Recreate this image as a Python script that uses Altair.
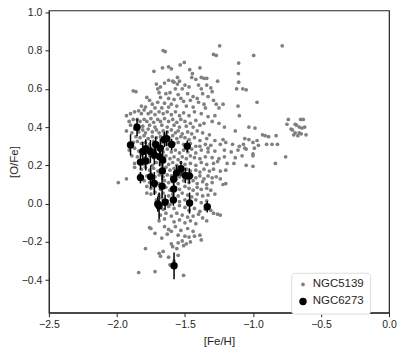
import altair as alt
import pandas as pd

# NGC5139 ([Fe/H], [O/Fe])
ngc5139 = [
    (-1.66, 0.80), (-1.645, 0.795), (-1.245, 0.825), (-0.785, 0.825), (-1.29, 0.78), (-1.27, 0.775),
    (-0.995, 0.775), (-1.105, 0.735), (-1.505, 0.738), (-1.535, 0.725), (-1.62, 0.715), (-1.60, 0.705),
    (-1.665, 0.71), (-1.728, 0.692), (-1.465, 0.70), (-1.39, 0.71),
    (-1.445, 0.68), (-1.107, 0.68), (-1.45, 0.66), (-1.38, 0.66), (-1.36, 0.655), (-1.34, 0.655),
    (-1.42, 0.65), (-1.555, 0.66), (-1.54, 0.64), (-1.59, 0.64), (-1.58, 0.635), (-1.555, 0.625),
    (-1.65, 0.63), (-1.71, 0.625), (-1.68, 0.61), (-1.26, 0.64), (-1.105, 0.635), (-1.50, 0.62),
    (-1.47, 0.61), (-1.40, 0.62), (-1.34, 0.62), (-1.31, 0.605), (-1.62, 0.645), (-1.52, 0.60),
    (-1.57, 0.60), (-1.38, 0.60), (-1.70, 0.60),
    (-1.88, 0.59), (-1.86, 0.585), (-1.30, 0.585), (-1.075, 0.60), (-1.05, 0.595), (-1.12, 0.60),
    (-1.78, 0.555), (-1.76, 0.54), (-1.69, 0.58), (-1.64, 0.575), (-1.61, 0.58), (-1.55, 0.57),
    (-1.48, 0.575), (-1.44, 0.56), (-1.41, 0.55), (-1.37, 0.575), (-1.33, 0.56), (-1.68, 0.555),
    (-1.62, 0.55), (-1.58, 0.545), (-1.53, 0.55), (-1.51, 0.535), (-1.46, 0.54), (-1.40, 0.53),
    (-1.36, 0.52), (-1.29, 0.54), (-1.27, 0.52), (-0.97, 0.53), (-1.11, 0.51), (-1.74, 0.52),
    (-1.70, 0.53), (-1.65, 0.525), (-1.60, 0.52), (-1.56, 0.51), (-1.49, 0.51), (-1.44, 0.505),
    (-1.79, 0.505), (-1.82, 0.51), (-1.72, 0.50), (-1.67, 0.50), (-1.62, 0.505), (-1.35, 0.50),
    (-1.22, 0.52), (-1.25, 0.50),
    (-1.93, 0.46), (-1.90, 0.47), (-1.87, 0.48), (-1.84, 0.485), (-1.82, 0.47), (-1.80, 0.49),
    (-1.77, 0.47), (-1.75, 0.48), (-1.72, 0.465), (-1.69, 0.48), (-1.66, 0.47), (-1.63, 0.48),
    (-1.60, 0.465), (-1.57, 0.48), (-1.54, 0.46), (-1.51, 0.475), (-1.47, 0.46), (-1.43, 0.48),
    (-1.38, 0.47), (-1.33, 0.455), (-1.28, 0.46), (-1.10, 0.46), (-1.91, 0.43), (-1.88, 0.44),
    (-1.85, 0.44), (-1.83, 0.43), (-1.80, 0.44), (-1.78, 0.43), (-1.75, 0.445), (-1.73, 0.425),
    (-1.70, 0.44), (-1.68, 0.43), (-1.65, 0.445), (-1.62, 0.43), (-1.59, 0.44), (-1.56, 0.425),
    (-1.53, 0.44), (-1.50, 0.43), (-1.46, 0.42), (-1.42, 0.435), (-1.36, 0.42), (-1.30, 0.43),
    (-1.90, 0.41), (-1.86, 0.41), (-1.81, 0.405), (-1.76, 0.41), (-1.72, 0.40), (-1.67, 0.41),
    (-1.63, 0.40), (-1.58, 0.41), (-1.54, 0.40), (-1.49, 0.405), (-1.44, 0.40), (-1.39, 0.41),
    (-1.25, 0.42), (-1.21, 0.40), (-1.03, 0.40), (-0.985, 0.395), (-1.13, 0.38),
    (-0.74, 0.44), (-0.65, 0.44), (-0.63, 0.44), (-0.69, 0.415), (-0.72, 0.39), (-0.71, 0.385),
    (-0.68, 0.41), (-0.66, 0.40), (-0.64, 0.395), (-0.62, 0.40), (-0.66, 0.37), (-0.645, 0.365),
    (-0.61, 0.36), (-0.69, 0.37), (-0.70, 0.36), (-0.67, 0.355), (-0.75, 0.415),
    (-1.93, 0.38), (-1.89, 0.37), (-1.87, 0.39), (-1.84, 0.375), (-1.81, 0.385), (-1.79, 0.37),
    (-1.77, 0.39), (-1.74, 0.375), (-1.71, 0.385), (-1.69, 0.37), (-1.66, 0.38), (-1.63, 0.375),
    (-1.60, 0.385), (-1.57, 0.37), (-1.55, 0.38), (-1.52, 0.365), (-1.48, 0.375), (-1.45, 0.365),
    (-1.41, 0.38), (-1.37, 0.37), (-1.32, 0.36), (-1.86, 0.35), (-1.83, 0.345), (-1.80, 0.355),
    (-1.77, 0.34), (-1.74, 0.35), (-1.71, 0.345), (-1.68, 0.35), (-1.65, 0.36), (-1.62, 0.345),
    (-1.59, 0.355), (-1.56, 0.34), (-1.53, 0.35), (-1.50, 0.345), (-1.47, 0.335), (-1.43, 0.345),
    (-1.39, 0.33), (-1.34, 0.34), (-1.28, 0.33), (-1.22, 0.335), (-1.20, 0.32), (-0.93, 0.36),
    (-0.91, 0.355), (-0.885, 0.35), (-0.83, 0.355), (-1.06, 0.34), (-1.03, 0.335), (-1.00, 0.32),
    (-0.97, 0.33), (-1.88, 0.32), (-1.85, 0.325), (-1.82, 0.315), (-1.79, 0.32), (-1.76, 0.31),
    (-1.73, 0.325), (-1.70, 0.31), (-1.67, 0.32), (-1.64, 0.31), (-1.61, 0.325), (-1.58, 0.315),
    (-1.55, 0.32), (-1.51, 0.31), (-1.46, 0.315), (-1.42, 0.30), (-1.39, 0.30), (-1.35, 0.31),
    (-1.31, 0.305), (-1.24, 0.31), (-1.15, 0.31), (-1.10, 0.30), (-1.07, 0.31), (-0.96, 0.305),
    (-0.90, 0.31), (-0.86, 0.31), (-0.82, 0.31),
    (-1.91, 0.28), (-1.87, 0.29), (-1.84, 0.275), (-1.81, 0.285), (-1.78, 0.27), (-1.75, 0.29),
    (-1.72, 0.275), (-1.69, 0.285), (-1.66, 0.27), (-1.63, 0.285), (-1.60, 0.27), (-1.57, 0.28),
    (-1.54, 0.265), (-1.51, 0.28), (-1.48, 0.27), (-1.45, 0.285), (-1.42, 0.265), (-1.38, 0.28),
    (-1.33, 0.29), (-1.33, 0.27), (-1.28, 0.275), (-1.21, 0.28), (-1.16, 0.27), (-1.11, 0.28),
    (-1.06, 0.29), (-1.05, 0.285), (-1.00, 0.26), (-0.99, 0.29), (-1.89, 0.25), (-1.85, 0.245),
    (-1.82, 0.255), (-1.79, 0.24), (-1.76, 0.25), (-1.73, 0.24), (-1.70, 0.255), (-1.67, 0.24),
    (-1.64, 0.25), (-1.61, 0.235), (-1.58, 0.245), (-1.55, 0.23), (-1.52, 0.245), (-1.49, 0.235),
    (-1.46, 0.25), (-1.43, 0.24), (-1.39, 0.235), (-1.35, 0.245), (-1.30, 0.24), (-1.25, 0.235),
    (-1.21, 0.245), (-1.13, 0.24), (-1.08, 0.25), (-1.00, 0.25), (-0.76, 0.245), (-1.87, 0.21),
    (-1.84, 0.22), (-1.80, 0.205), (-1.77, 0.215), (-1.74, 0.20), (-1.71, 0.215), (-1.68, 0.205),
    (-1.65, 0.22), (-1.62, 0.205), (-1.59, 0.215), (-1.56, 0.20), (-1.53, 0.215), (-1.50, 0.205),
    (-1.46, 0.21), (-1.42, 0.20), (-1.38, 0.215), (-1.34, 0.205), (-1.29, 0.21), (-1.26, 0.22),
    (-1.19, 0.21), (-1.14, 0.21), (-1.05, 0.20), (-1.00, 0.195), (-0.835, 0.21),
    (-1.87, 0.19), (-1.82, 0.18), (-1.79, 0.19), (-1.76, 0.175), (-1.73, 0.185), (-1.70, 0.17),
    (-1.67, 0.18), (-1.64, 0.19), (-1.61, 0.175), (-1.58, 0.185), (-1.55, 0.17), (-1.52, 0.165),
    (-1.49, 0.18), (-1.46, 0.17), (-1.42, 0.175), (-1.39, 0.165), (-1.36, 0.18), (-1.32, 0.17),
    (-1.29, 0.18), (-1.24, 0.17), (-1.20, 0.175), (-1.83, 0.15), (-1.78, 0.145), (-1.75, 0.155),
    (-1.72, 0.14), (-1.69, 0.15), (-1.66, 0.14), (-1.63, 0.15), (-1.60, 0.145), (-1.57, 0.155),
    (-1.54, 0.14), (-1.51, 0.15), (-1.48, 0.13), (-1.45, 0.145), (-1.42, 0.135), (-1.39, 0.145),
    (-1.36, 0.13), (-1.33, 0.145), (-1.30, 0.135), (-1.27, 0.14), (-1.24, 0.13), (-1.99, 0.11),
    (-1.93, 0.13), (-1.80, 0.12), (-1.76, 0.11), (-1.73, 0.12), (-1.69, 0.105), (-1.65, 0.12),
    (-1.62, 0.11), (-1.59, 0.115), (-1.55, 0.105), (-1.51, 0.12), (-1.47, 0.11), (-1.44, 0.12),
    (-1.41, 0.105), (-1.37, 0.115), (-1.34, 0.10), (-1.30, 0.11), (-1.22, 0.10), (-1.20, 0.105),
    (-1.78, 0.09), (-1.75, 0.08), (-1.72, 0.09), (-1.68, 0.075), (-1.64, 0.085), (-1.61, 0.07),
    (-1.57, 0.085), (-1.54, 0.075), (-1.50, 0.09), (-1.47, 0.08), (-1.44, 0.07), (-1.41, 0.085),
    (-1.38, 0.075), (-1.34, 0.08), (-1.31, 0.07), (-1.78, 0.055), (-1.75, 0.05), (-1.72, 0.06),
    (-1.69, 0.045), (-1.66, 0.055), (-1.62, 0.04), (-1.59, 0.05), (-1.55, 0.04), (-1.52, 0.055),
    (-1.48, 0.045), (-1.45, 0.035), (-1.41, 0.05), (-1.37, 0.04), (-1.33, 0.045), (-1.28, 0.05),
    (-1.71, 0.02), (-1.67, 0.03), (-1.63, 0.015), (-1.58, 0.025), (-1.54, 0.01), (-1.50, 0.02),
    (-1.46, 0.01), (-1.42, 0.02), (-1.38, 0.005), (-1.34, 0.015), (-1.70, 0.005), (-1.61, -0.005),
    (-1.69, -0.02), (-1.66, -0.03), (-1.62, -0.015), (-1.58, -0.025), (-1.54, -0.01), (-1.50, -0.02),
    (-1.47, -0.035), (-1.43, -0.025), (-1.39, -0.04), (-1.35, -0.03), (-1.31, -0.035), (-1.29, -0.05),
    (-1.26, -0.055), (-1.24, -0.06), (-1.68, -0.06), (-1.64, -0.05), (-1.60, -0.065), (-1.56, -0.05),
    (-1.52, -0.06), (-1.48, -0.07), (-1.44, -0.065), (-1.40, -0.055), (-1.37, -0.075), (-1.69, -0.09),
    (-1.65, -0.08), (-1.58, -0.095), (-1.54, -0.085), (-1.50, -0.10), (-1.46, -0.09), (-1.42, -0.105),
    (-1.34, -0.09),
    (-1.76, -0.125), (-1.75, -0.13), (-1.65, -0.12), (-1.62, -0.135), (-1.57, -0.12), (-1.53, -0.14),
    (-1.48, -0.13), (-1.44, -0.145), (-1.72, -0.155), (-1.63, -0.16), (-1.60, -0.145), (-1.55, -0.165),
    (-1.50, -0.17), (-1.47, -0.175), (-1.43, -0.17), (-1.39, -0.165), (-1.46, -0.20), (-1.52, -0.195),
    (-1.38, -0.19), (-1.67, -0.18), (-1.55, -0.205), (-1.60, -0.21), (-1.79, -0.235), (-1.59, -0.225),
    (-1.56, -0.235), (-1.51, -0.22), (-1.49, -0.21), (-1.69, -0.26), (-1.68, -0.275), (-1.66, -0.25),
    (-1.62, -0.28), (-1.61, -0.32), (-1.58, -0.30), (-1.55, -0.27), (-1.84, -0.36), (-1.72, -0.355),
    (-1.51, -0.375), (-1.60, -0.325),
]

# NGC6273 ([Fe/H], [O/Fe], error in [O/Fe])
fe_6273 = [-1.90, -1.852, -1.827, -1.827, -1.81, -1.788, -1.788, -1.754, -1.752, -1.725,
           -1.715, -1.725, -1.70, -1.69, -1.686, -1.681, -1.664, -1.666, -1.668, -1.651,
           -1.646, -1.634, -1.598, -1.583, -1.583, -1.585, -1.58, -1.561, -1.529, -1.497,
           -1.483, -1.468, -1.466, -1.336]
ofe_6273 = [0.307, 0.399, 0.217, 0.136, 0.273, 0.287, 0.223, 0.273, 0.140, 0.105,
            0.309, 0.254, -0.002, -0.012, 0.245, 0.290, 0.228, 0.171, 0.091, 0.335,
            0.007, 0.340, 0.309, 0.128, 0.076, 0.019, -0.325, 0.161, 0.183, 0.147,
            0.300, 0.145, 0.003, -0.016]
err_6273 = [0.055, 0.045, 0.04, 0.03, 0.05, 0.05, 0.05, 0.06, 0.06, 0.06,
            0.04, 0.05, 0.04, 0.07, 0.05, 0.05, 0.05, 0.05, 0.06, 0.04,
            0.04, 0.04, 0.03, 0.04, 0.04, 0.03, 0.07, 0.04, 0.04, 0.04,
            0.03, 0.04, 0.055, 0.03]

series = ["NGC5139", "NGC6273"]
x_ticks = [-2.5, -2.0, -1.5, -1.0, -0.5, 0.0]
y_ticks = [-0.4, -0.2, 0.0, 0.2, 0.4, 0.6, 0.8, 1.0]

df1 = pd.DataFrame(ngc5139, columns=["fe", "ofe"])
df1["cluster"] = series[0]
df2 = pd.DataFrame({"fe": fe_6273, "ofe": ofe_6273, "err": err_6273})
df2["cluster"] = series[1]
df2["lo"] = df2["ofe"] - df2["err"]
df2["hi"] = df2["ofe"] + df2["err"]

ink = "#262626"
font = "Liberation Sans"

xs = alt.Scale(domain=[-2.5, 0.0], nice=False, zero=False)
ys = alt.Scale(domain=[-0.57, 1.01], nice=False, zero=False)
xax = alt.Axis(values=x_ticks, format=".1f", title="[Fe/H]", grid=False,
               labelFlush=False, labelOverlap=False)
yax = alt.Axis(values=y_ticks, format=".1f", title="[O/Fe]", grid=False,
               labelFlush=False, labelOverlap=False, titleX=-29)

color = alt.Color("cluster:N", scale=alt.Scale(domain=series, range=["#808080", "#000000"]),
                  legend=alt.Legend(title=None, orient="none", legendX=243, legendY=263,
                                    strokeColor="#dddddd", fillColor="white", padding=6,
                                    cornerRadius=3, labelFontSize=11.5, labelFont=font,
                                    labelColor=ink, rowPadding=4, symbolStrokeWidth=0))
size = alt.Size("cluster:N", scale=alt.Scale(domain=series, range=[14, 55]),
                legend=alt.Legend(title=None, orient="none", legendX=243, legendY=263))

gray = alt.Chart(df1).mark_circle(opacity=1).encode(
    x=alt.X("fe:Q", scale=xs, axis=xax),
    y=alt.Y("ofe:Q", scale=ys, axis=yax),
    color=color, size=size,
)
bars = alt.Chart(df2).mark_rule(color="black", strokeWidth=1.5).encode(
    x=alt.X("fe:Q", scale=xs), y=alt.Y("lo:Q", scale=ys), y2="hi:Q"
)
black = alt.Chart(df2).mark_circle(opacity=1).encode(
    x=alt.X("fe:Q", scale=xs), y=alt.Y("ofe:Q", scale=ys),
    color=color, size=size,
)

chart = alt.layer(gray, bars, black).properties(
    width=341, height=303,
    autosize=alt.AutoSizeParams(type="none"),
    padding={"left": 41, "top": 2, "right": 10, "bottom": 40},
).configure_view(stroke=ink, strokeWidth=1.2).configure_axis(
    domainColor=ink, tickColor=ink, tickSize=4, labelFont=font, titleFont=font,
    labelFontSize=10.5, titleFontSize=11.5, labelColor=ink, titleColor=ink,
    titleFontWeight="normal", labelPadding=3,
).configure_axisX(titlePadding=5)

chart.save("out.html", embed_options={"renderer": "svg", "actions": False})
